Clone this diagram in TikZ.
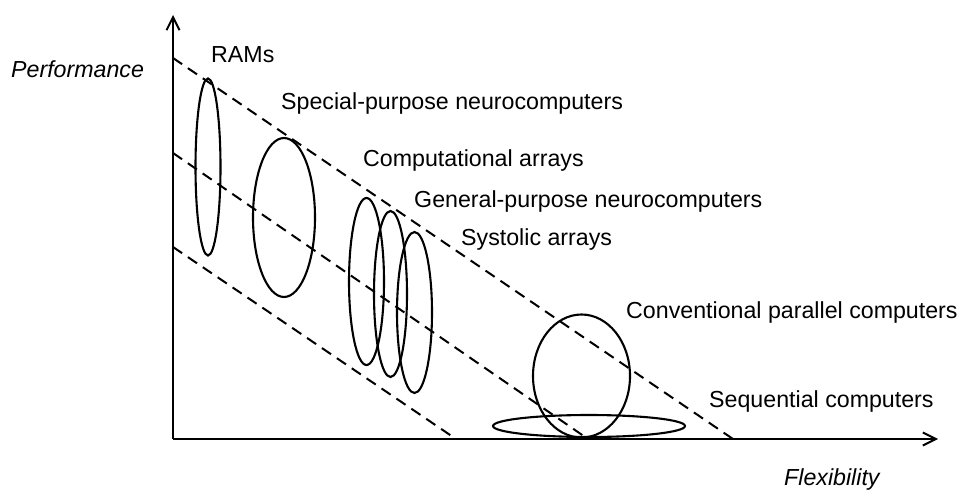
\documentclass[tikz,border=0pt]{standalone}
\usepackage{fontspec}
\setmainfont{Liberation Sans}
\usetikzlibrary{arrows.meta}
\tikzset{
  axis/.style={line width=2.2pt, -{Straight Barb[length=13pt,width=13pt,line width=2pt]}},
  guide/.style={line width=2pt, dash pattern=on 11pt off 7pt},
  region/.style={line width=2.1pt},
  lbl/.style={anchor=base west, inner sep=0pt, font=\fontsize{23.2}{28}\selectfont},
  axlbl/.style={lbl, font=\fontsize{23.2}{28}\selectfont\itshape},
}
\begin{document}
\begin{tikzpicture}[x=1pt, y=-1pt]
  \useasboundingbox (0,0) rectangle (968,494);

  % axes
  \coordinate (O) at (173,439);
  \coordinate (ytip) at (173,15);
  \coordinate (xtip) at (938,439);
  \draw[axis] (O) -- (ytip);
  \draw[axis] (O) -- (xtip);

  % dashed guide lines
  \coordinate (a1) at (173,58);  \coordinate (b1) at (733,439);
  \coordinate (a2) at (173,153); \coordinate (b2) at (588,439);
  \coordinate (a3) at (173,247); \coordinate (b3) at (456,439);
  \draw[guide] (a1) -- (b1);
  \draw[guide] (a2) -- (b2);
  \draw[guide] (a3) -- (b3);

  % architecture regions
  \coordinate (ram) at (208,167);
  \coordinate (spn) at (284,217.5);
  \coordinate (ca)  at (366.5,281.5);
  \coordinate (gpn) at (390.5,294);
  \coordinate (sa)  at (414.5,312.5);
  \coordinate (cpc) at (581.5,376);
  \coordinate (seq) at (589,426);
  \draw[region] (ram) ellipse [x radius=12.5, y radius=88.5];
  \draw[region] (spn) ellipse [x radius=31, y radius=79.5];
  \draw[region] (ca)  ellipse [x radius=17.5, y radius=83.5];
  \draw[region] (gpn) ellipse [x radius=16.5, y radius=83];
  \draw[region] (sa)  ellipse [x radius=17.5, y radius=80.5];
  \draw[region] (cpc) ellipse [x radius=48.5, y radius=61.5];
  \draw[region] (seq) ellipse [x radius=96, y radius=11];

  % labels
  \node[lbl] (tRAM) at (211,63)  {RAMs};
  \node[lbl] (tSPN) at (281,110) {Special-purpose neurocomputers};
  \node[lbl] (tCA)  at (363,167) {Computational arrays};
  \node[lbl] (tGPN) at (414,208) {General-purpose neurocomputers};
  \node[lbl] (tSA)  at (461,246) {Systolic arrays};
  \node[lbl] (tCPC) at (626,318) {Conventional parallel computers};
  \node[lbl] (tSEQ) at (709,407) {Sequential computers};
  \node[axlbl] (tPerf) at (11,78)  {Performance};
  \node[axlbl] (tFlex) at (784,485) {Flexibility};
\end{tikzpicture}
\end{document}
